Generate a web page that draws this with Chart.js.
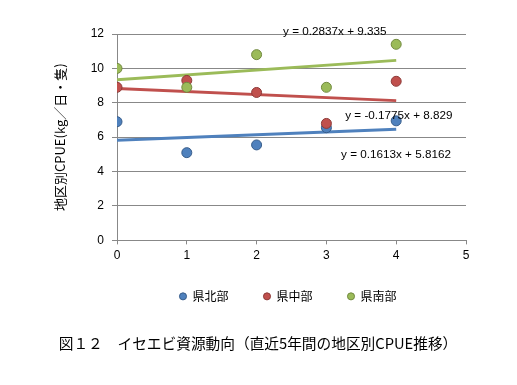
<!DOCTYPE html>
<html>
<head>
<meta charset="utf-8">
<script src="https://cdn.jsdelivr.net/npm/chart.js@4.4.1/dist/chart.umd.min.js"></script>
<style>
  html, body { margin: 0; padding: 0; background: #fff; }
  #chart { display: block; }
</style>
</head>
<body>
<canvas id="chart" width="517" height="385"></canvas>
<script>
// 地区別CPUE（直近5年）
const years = [0, 1, 2, 3, 4];
const seriesNames = ['県北部', '県中部', '県南部'];
const north = [6.9, 5.1, 5.55, 6.55, 6.95];
const central = [8.9, 9.3, 8.6, 6.8, 9.25];
const south = [10.0, 8.9, 10.8, 8.9, 11.4];

// 近似直線（両端の値）
const trendX = [0, 4];
const northTrend = [5.82, 6.46];
const centralTrend = [8.83, 8.12];
const southTrend = [9.34, 10.47];
const trendTexts = ['y = 0.1613x + 5.8162', 'y = -0.1775x + 8.829', 'y = 0.2837x + 9.335'];

const yTicks = [0, 2, 4, 6, 8, 10, 12];

const fills = ['#4F81BD', '#C0504D', '#9BBB59'];
const borders = ['#385D8A', '#8C3A38', '#71893F'];

const toPoints = (xs, ys) => xs.map((x, i) => ({ x: x, y: ys[i] }));

const scatterSets = [north, central, south].map((vals, i) => ({
    type: 'scatter',
    label: seriesNames[i],
    data: toPoints(years, vals),
    backgroundColor: fills[i],
    borderColor: borders[i],
    borderWidth: 1,
    pointRadius: 5,
    pointHoverRadius: 5,
    order: 3 - i
}));

const trendSets = [northTrend, centralTrend, southTrend].map((vals, i) => ({
    type: 'line',
    label: trendTexts[i],
    data: toPoints(trendX, vals),
    borderColor: fills[i],
    borderWidth: 2.8,
    pointRadius: 0,
    fill: false,
    order: 10
}));

// 近似式のラベル（データ座標で配置）
const labelSpots = [
    { x: 3.21, y: 5.0 },
    { x: 3.27, y: 7.25 },
    { x: 2.38, y: 12.15 }
];

const trendLabelPlugin = {
    id: 'trendLabels',
    afterDatasetsDraw(chart) {
        const { ctx, scales: { x, y } } = chart;
        ctx.save();
        ctx.font = '11.7px "Liberation Sans", Arial, sans-serif';
        ctx.fillStyle = '#000';
        ctx.textAlign = 'left';
        ctx.textBaseline = 'middle';
        trendTexts.forEach((t, i) => {
            ctx.fillText(t, x.getPixelForValue(labelSpots[i].x), y.getPixelForValue(labelSpots[i].y));
        });
        ctx.restore();
    }
};

// 凡例をプロット領域の下に寄せる
const legendShift = {
    id: 'legendShift',
    afterLayout(chart) {
        const lg = chart.legend;
        lg.left += 30; lg.right += 30;
        lg.top -= 9; lg.bottom -= 9;
    }
};

new Chart(document.getElementById('chart'), {
    data: { datasets: scatterSets.concat(trendSets) },
    options: {
        responsive: false,
        animation: false,
        layout: { padding: { top: 34, right: 51, bottom: 23, left: 50 } },
        scales: {
            x: {
                type: 'linear',
                min: 0,
                max: 5,
                ticks: {
                    stepSize: 1,
                    color: '#000',
                    padding: 4,
                    font: { family: '"Liberation Sans", Arial, sans-serif', size: 12 }
                },
                grid: { drawOnChartArea: false, drawTicks: true, tickLength: 4, color: '#888' },
                border: { color: '#888' },
                afterFit(scale) { scale.height = 24; }
            },
            y: {
                min: 0,
                max: 12,
                afterBuildTicks(scale) { scale.ticks = yTicks.map(v => ({ value: v })); },
                ticks: {
                    color: '#000',
                    padding: 8,
                    font: { family: '"Liberation Sans", Arial, sans-serif', size: 12 }
                },
                grid: { color: '#888', tickLength: 5 },
                border: { color: '#888' },
                title: {
                    display: true,
                    text: '地区別CPUE(kg／日・隻)',
                    color: '#000',
                    padding: { top: 2, bottom: 0 },
                    font: { family: '"Noto Sans CJK JP", sans-serif', size: 13 }
                },
                afterFit(scale) { scale.width = 67; }
            }
        },
        plugins: {
            legend: {
                position: 'bottom',
                labels: {
                    usePointStyle: true,
                    pointStyle: 'circle',
                    boxWidth: 7,
                    boxHeight: 5,
                    padding: 35,
                    color: '#000',
                    font: { family: '"Noto Sans CJK JP", sans-serif', size: 12 },
                    filter: item => item.datasetIndex < 3,
                    sort: (a, b) => a.datasetIndex - b.datasetIndex
                }
            },
            title: {
                display: true,
                position: 'bottom',
                text: '図１２　イセエビ資源動向（直近5年間の地区別CPUE推移）',
                color: '#000',
                padding: { top: 13, bottom: 10 },
                font: { family: '"Noto Sans CJK JP", sans-serif', size: 14.7, weight: 'normal' }
            },
            tooltip: { enabled: false }
        }
    },
    plugins: [trendLabelPlugin, legendShift]
});
</script>
</body>
</html>
